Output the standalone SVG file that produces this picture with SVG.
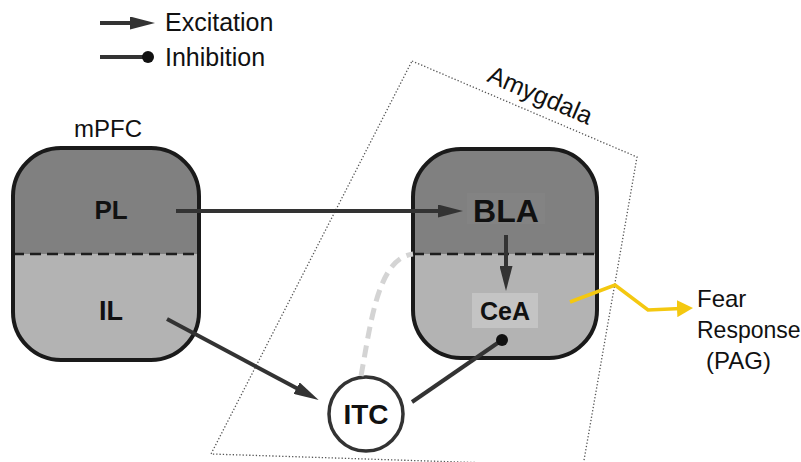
<svg xmlns="http://www.w3.org/2000/svg" width="801" height="462" viewBox="0 0 801 462">
  <style>
    .lbl { font-family: "Liberation Sans", Arial, sans-serif; fill: #111; }
    .bold { font-weight: bold; }
    .box { fill: none; stroke: #1a1a1a; stroke-width: 4; }
    .top { fill: #808080; }
    .bottom { fill: #b3b3b3; }
    .split { stroke: #1e1e1e; stroke-width: 2.5; stroke-dasharray: 11 6; }
    .exc { stroke: #333; stroke-width: 4; fill: none; }
    .inh { stroke: #333; stroke-width: 4; fill: none; }
    .region { fill: none; stroke: #555; stroke-width: 1.3; stroke-dasharray: 1.3 2; }
  </style>
  <defs>
    <marker id="arrow" viewBox="0 0 25 13" refX="5" refY="6.5" markerWidth="25" markerHeight="13" markerUnits="userSpaceOnUse" orient="auto">
      <path d="M0,0 L25,6.5 L0,13 z" fill="#333"/>
    </marker>
    <marker id="dot" viewBox="-6 -6 12 12" refX="0" refY="0" markerWidth="12" markerHeight="12" markerUnits="userSpaceOnUse">
      <circle r="6" fill="#111"/>
    </marker>
    <marker id="arrowYellow" viewBox="0 0 16 17" refX="4" refY="8.5" markerWidth="16" markerHeight="17" markerUnits="userSpaceOnUse" orient="auto">
      <path d="M0,0 L16,8.5 L0,17 z" fill="#f4c810"/>
    </marker>
    <clipPath id="clipPFC"><rect x="13" y="148" width="186" height="212" rx="48"/></clipPath>
    <clipPath id="clipAMY"><rect x="413" y="149" width="184" height="209" rx="48"/></clipPath>
  </defs>

  <!-- legend -->
  <g id="legend">
    <line class="exc" x1="100" y1="23" x2="135" y2="23" marker-end="url(#arrow)"/>
    <text class="lbl" x="165" y="31" font-size="25">Excitation</text>
    <line class="inh" x1="100" y1="57" x2="148" y2="57" marker-end="url(#dot)"/>
    <text class="lbl" x="165" y="66" font-size="25">Inhibition</text>
  </g>

  <!-- amygdala outline -->
  <g id="amygdala">
    <polygon class="region" points="412,61 637,157 583,466 211,454"/>
    <text class="lbl" x="537" y="103" font-size="25" text-anchor="middle" transform="rotate(23.2 537 103)">Amygdala</text>
  </g>

  <!-- medial prefrontal cortex -->
  <g id="mPFC">
    <text class="lbl" x="108" y="137" font-size="24" text-anchor="middle">mPFC</text>
    <g clip-path="url(#clipPFC)">
      <rect class="top" x="13" y="148" width="186" height="106"/>
      <rect class="bottom" x="13" y="254" width="186" height="106"/>
    </g>
    <line class="split" x1="13" y1="254" x2="199" y2="254"/>
    <rect class="box" x="13" y="148" width="186" height="212" rx="48"/>
  </g>
  <g id="PL">
    <text class="lbl bold" x="111" y="219" font-size="26" text-anchor="middle">PL</text>
  </g>
  <g id="IL">
    <text class="lbl bold" x="111" y="320" font-size="27" text-anchor="middle">IL</text>
  </g>

  <!-- amygdala nuclei box -->
  <g id="amygdalaBox">
    <g clip-path="url(#clipAMY)">
      <rect class="top" x="413" y="149" width="184" height="105"/>
      <rect class="bottom" x="413" y="254" width="184" height="104"/>
    </g>
    <line class="split" x1="413" y1="254" x2="597" y2="254"/>
    <rect class="box" x="413" y="149" width="184" height="209" rx="48"/>
  </g>
  <g id="BLA">
    <rect x="467" y="193" width="78" height="31" fill="#838383"/>
    <text class="lbl bold" x="506" y="222" font-size="32" text-anchor="middle">BLA</text>
  </g>
  <g id="CeA">
    <rect x="472" y="293" width="66" height="35" fill="#c4c4c4"/>
    <text class="lbl bold" x="505" y="320" font-size="25" text-anchor="middle">CeA</text>
  </g>

  <!-- intercalated cells -->
  <g id="ITC">
    <circle cx="366" cy="414" r="37" fill="#fff" stroke="#333" stroke-width="3.5"/>
    <text class="lbl bold" x="366" y="424" font-size="28" text-anchor="middle">ITC</text>
  </g>

  <!-- output -->
  <g id="fear">
    <text class="lbl" x="697" y="307" font-size="24">Fear</text>
    <text class="lbl" x="697" y="338" font-size="23">Response</text>
    <text class="lbl" x="706" y="369" font-size="24">(PAG)</text>
  </g>

  <!-- connectors -->
  <g id="connectors">
    <line class="exc" x1="176" y1="211" x2="443" y2="211" marker-end="url(#arrow)"/>
    <line class="exc" x1="506" y1="235" x2="506" y2="271" marker-end="url(#arrow)"/>
    <line class="exc" x1="167" y1="319" x2="301" y2="390.5" marker-end="url(#arrow)"/>
    <line class="inh" x1="412" y1="402" x2="502" y2="340" marker-end="url(#dot)"/>
    <path d="M361,376 C371,322 378,258 413,254" fill="none" stroke="#d4d4d4" stroke-width="5" stroke-dasharray="12 7"/>
    <polyline points="570,302 615,285 648,310 681,308.5" fill="none" stroke="#f4c810" stroke-width="3.5" marker-end="url(#arrowYellow)"/>
  </g>
</svg>
